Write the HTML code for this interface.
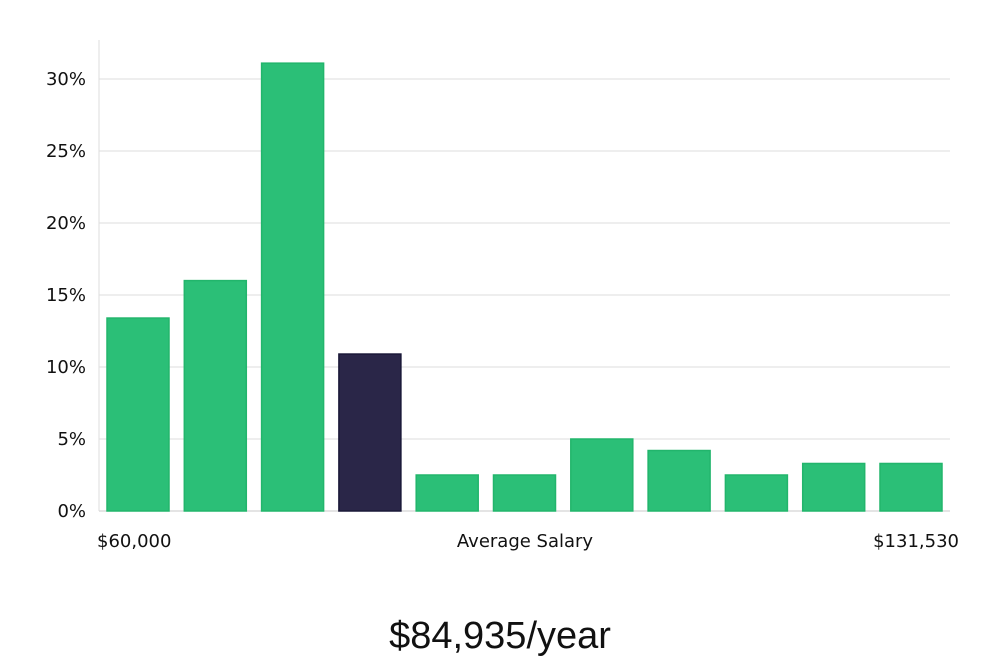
<!DOCTYPE html>
<html><head><meta charset="utf-8"><style>
html,body{margin:0;padding:0;background:#fff;width:1000px;height:660px;overflow:hidden}
svg text{font-family:"DejaVu Sans","Liberation Sans",sans-serif;fill:#111}
</style></head><body>
<svg id="chart" width="1000" height="660" xmlns="http://www.w3.org/2000/svg"></svg>
<script>
const categories=["b1","b2","b3","b4","b5","b6","b7","b8","b9","b10","b11"];
const values=[13.4,16.0,31.1,10.9,2.5,2.5,5.0,4.2,2.5,3.3,3.3];
const highlight=[false,false,false,true,false,false,false,false,false,false,false];
const yTicks=[0,5,10,15,20,25,30];
const yTickLabels=["0%","5%","10%","15%","20%","25%","30%"];
const NS="http://www.w3.org/2000/svg";
const svg=document.getElementById('chart');
const x0=99,x1=950,yBase=511;
function y(v){return yBase-v*14.4;}
const pitch=(x1-x0+4)/categories.length;
function bx(i){return 107+i*77.3;}
function mk(t,a){const e=document.createElementNS(NS,t);for(const k in a)e.setAttribute(k,a[k]);svg.appendChild(e);return e;}
yTicks.forEach((t,i)=>{
  const g=mk('line',{x1:x0,x2:x1,y1:y(t),y2:y(t),stroke:t===0?'#c8c8c8':'#dedede','stroke-width':1});
  
  
  const l=mk('text',{x:86,y:y(t)+6,'text-anchor':'end','font-size':18});
  l.textContent=yTickLabels[i];
  
  
});
const ax=mk('line',{x1:x0,x2:x0,y1:40,y2:yBase,stroke:'#dedede','stroke-width':1});


values.forEach((v,i)=>{
  const r=mk('rect',{x:bx(i),y:y(v),width:62,height:yBase-y(v),fill:highlight[i]?'#2a2648':'#2bbf77',stroke:highlight[i]?'#1a1838':'#22b56c','stroke-width':1.5});
  
  
});
[["$60,000",97,'start','x-min-label'],["Average Salary",525,'middle','x-axis-title'],["$131,530",959,'end','x-max-label']].forEach(a=>{
  const t=mk('text',{x:a[1],y:547,'text-anchor':a[2],'font-size':18});
  t.textContent=a[0];
  
  
});
const title=mk('text',{x:500,y:648,'text-anchor':'middle','font-size':38,'font-weight':300});
title.setAttribute('style','font-family:"Liberation Sans Narrow","Liberation Sans",sans-serif');
title.textContent="$84,935/year";


</script>
</body></html>
